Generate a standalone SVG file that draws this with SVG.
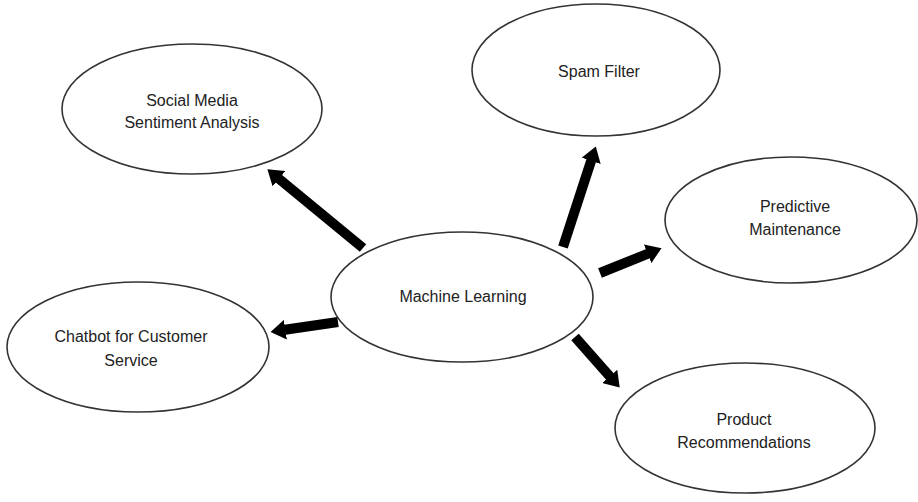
<svg xmlns="http://www.w3.org/2000/svg" width="918" height="502" viewBox="0 0 918 502">
<style>
.node ellipse{fill:#fff;stroke:#333;stroke-width:1.6}
.node text{font-family:"Liberation Sans","Open Sans",sans-serif;font-size:16px;fill:#222;text-anchor:middle}
.conn line{stroke:#000;stroke-width:10;stroke-linecap:butt}
</style>
<defs>
<marker id="ah" markerUnits="userSpaceOnUse" viewBox="0 0 15 20" refX="0.5" refY="10" markerWidth="15" markerHeight="20" orient="auto">
<path d="M0,0 L15,10 L0,20 z" fill="#000"/>
</marker>
</defs>
<rect width="918" height="502" fill="#fff"/>
<g id="n-social" class="node"><ellipse cx="192" cy="109" rx="130" ry="65"/><text x="192" y="106">Social Media</text><text x="192" y="128">Sentiment Analysis</text></g>
<g id="n-spam" class="node"><ellipse cx="596" cy="70" rx="124" ry="66"/><text x="599" y="77">Spam Filter</text></g>
<g id="n-predictive" class="node"><ellipse cx="791" cy="220" rx="126" ry="63"/><text x="795" y="212">Predictive</text><text x="795" y="235">Maintenance</text></g>
<g id="n-ml" class="node"><ellipse cx="462" cy="297" rx="131" ry="65"/><text x="463" y="302">Machine Learning</text></g>
<g id="n-chatbot" class="node"><ellipse cx="138" cy="347" rx="131" ry="65"/><text x="131" y="342">Chatbot for Customer</text><text x="131" y="366">Service</text></g>
<g id="n-product" class="node"><ellipse cx="745" cy="428" rx="130" ry="65"/><text x="744" y="425">Product</text><text x="744" y="448">Recommendations</text></g>
<g id="connectors" class="conn">
<line x1="363" y1="248" x2="278.6" y2="178.5" marker-end="url(#ah)"/>
<line x1="563" y1="247" x2="591.3" y2="160.3" marker-end="url(#ah)"/>
<line x1="600" y1="273" x2="648.1" y2="253.6" marker-end="url(#ah)"/>
<line x1="338" y1="322" x2="284.9" y2="329.8" marker-end="url(#ah)"/>
<line x1="575" y1="337" x2="610.1" y2="376.75" marker-end="url(#ah)"/>
</g>
</svg>
